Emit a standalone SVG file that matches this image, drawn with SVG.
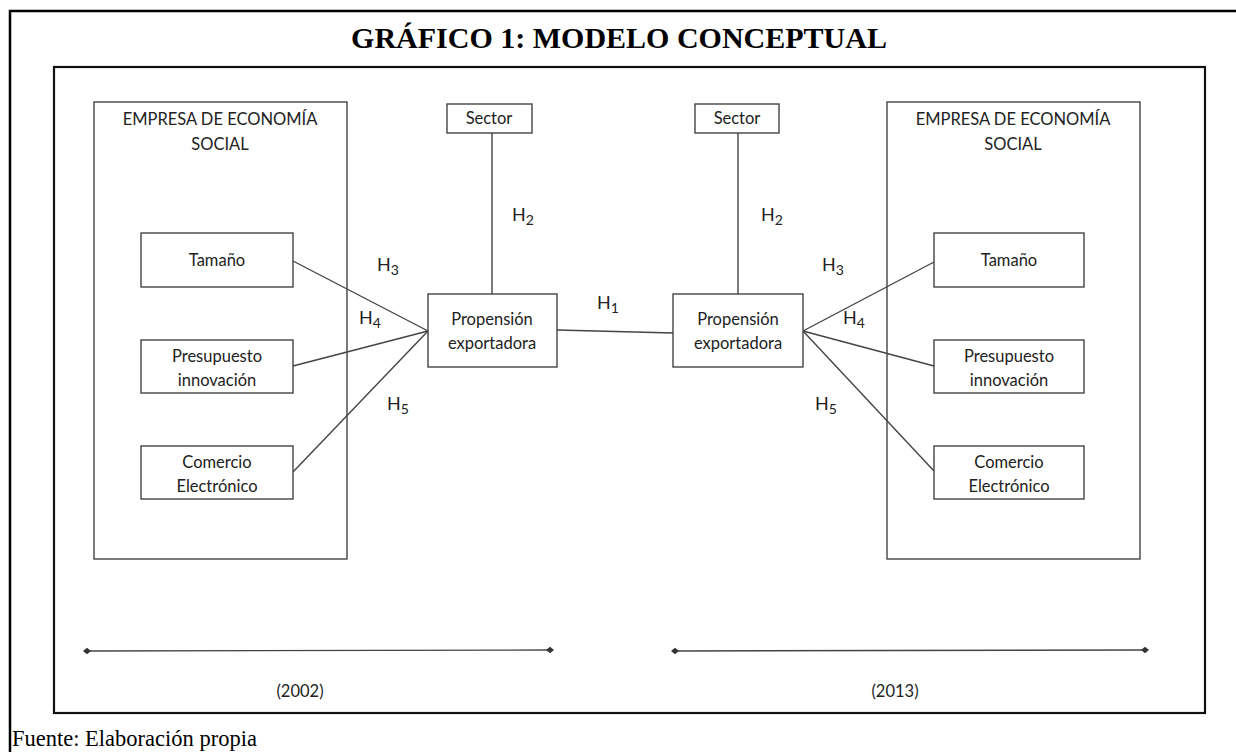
<svg xmlns="http://www.w3.org/2000/svg" width="1236" height="752" viewBox="0 0 1236 752">
<style>
.t{font-family:Lato,"Open Sans","Liberation Sans",sans-serif;font-size:16.5px;fill:#222;text-anchor:middle}
.h{font-family:Lato,"Open Sans","Liberation Sans",sans-serif;font-size:18px;fill:#222}
.s{font-size:14px}
.box{fill:#fff;stroke:#444;stroke-width:1.4}
.ln{stroke:#444;stroke-width:1.4;fill:none}
</style>
<defs>
<marker id="dia" viewBox="-5 -5 10 10" markerWidth="8" markerHeight="8" refX="0" refY="0" markerUnits="userSpaceOnUse"><path d="M-5 0L0-4L5 0L0 4Z" fill="#333"/></marker>
</defs>
<rect x="0" y="0" width="1236" height="752" fill="#fff"/>
<g id="frame">
<path d="M10 752V11H1236" stroke="#000" stroke-width="2.5" fill="none"/>
<rect x="54" y="67" width="1151" height="646" fill="none" stroke="#111" stroke-width="2.2"/>
<text x="619" y="48" font-family="Liberation Serif,serif" font-weight="bold" font-size="30" text-anchor="middle">GRÁFICO 1: MODELO CONCEPTUAL</text>
<text x="12" y="746" font-family="Liberation Serif,serif" font-size="22.5">Fuente: Elaboración propia</text>
</g>
<g id="empresa-2002"><rect class="box" x="94" y="102" width="253" height="457"/><text class="t" x="220" y="125">EMPRESA DE ECONOMÍA</text><text class="t" x="220" y="150">SOCIAL</text></g>
<g id="empresa-2013"><rect class="box" x="887" y="102" width="253" height="457"/><text class="t" x="1013" y="125">EMPRESA DE ECONOMÍA</text><text class="t" x="1013" y="150">SOCIAL</text></g>
<g id="connectors">
<line class="ln" x1="293" y1="261" x2="428" y2="331"/>
<line class="ln" x1="293" y1="366" x2="428" y2="331"/>
<line class="ln" x1="293" y1="472" x2="428" y2="331"/>
<line class="ln" x1="934" y1="262" x2="803" y2="331"/>
<line class="ln" x1="934" y1="366" x2="803" y2="331"/>
<line class="ln" x1="934" y1="471" x2="803" y2="331"/>
<line class="ln" x1="492" y1="133" x2="492" y2="294"/>
<line class="ln" x1="738" y1="133" x2="738" y2="294"/>
<line class="ln" x1="557" y1="330" x2="673" y2="333"/>
<line class="ln" x1="87" y1="651" x2="550" y2="650" marker-start="url(#dia)" marker-end="url(#dia)"/>
<line class="ln" x1="675" y1="651" x2="1145" y2="650" marker-start="url(#dia)" marker-end="url(#dia)"/>
</g>
<g id="tam-l"><rect class="box" x="141" y="233" width="152" height="54"/><text class="t" x="217" y="266">Tamaño</text></g>
<g id="pre-l"><rect class="box" x="141" y="340" width="152" height="53"/><text class="t" x="217" y="362">Presupuesto</text><text class="t" x="217" y="386">innovación</text></g>
<g id="com-l"><rect class="box" x="141" y="446" width="152" height="53"/><text class="t" x="217" y="468">Comercio</text><text class="t" x="217" y="492">Electrónico</text></g>
<g id="tam-r"><rect class="box" x="934" y="233" width="150" height="54"/><text class="t" x="1009" y="266">Tamaño</text></g>
<g id="pre-r"><rect class="box" x="934" y="340" width="150" height="53"/><text class="t" x="1009" y="362">Presupuesto</text><text class="t" x="1009" y="386">innovación</text></g>
<g id="com-r"><rect class="box" x="934" y="446" width="150" height="53"/><text class="t" x="1009" y="468">Comercio</text><text class="t" x="1009" y="492">Electrónico</text></g>
<g id="sec-l"><rect class="box" x="447" y="104" width="85" height="29"/><text class="t" x="489" y="124">Sector</text></g>
<g id="sec-r"><rect class="box" x="695" y="104" width="84" height="29"/><text class="t" x="737" y="124">Sector</text></g>
<g id="prop-l"><rect class="box" x="428" y="294" width="129" height="73"/><text class="t" x="492" y="325">Propensión</text><text class="t" x="492" y="349">exportadora</text></g>
<g id="prop-r"><rect class="box" x="673" y="294" width="130" height="73"/><text class="t" x="738" y="325">Propensión</text><text class="t" x="738" y="349">exportadora</text></g>
<g id="labels">
<text class="h" x="512" y="221">H<tspan class="s" dy="4">2</tspan></text>
<text class="h" x="761" y="221">H<tspan class="s" dy="4">2</tspan></text>
<text class="h" x="377" y="271">H<tspan class="s" dy="4">3</tspan></text>
<text class="h" x="359" y="324">H<tspan class="s" dy="4">4</tspan></text>
<text class="h" x="387" y="410">H<tspan class="s" dy="4">5</tspan></text>
<text class="h" x="597" y="309">H<tspan class="s" dy="4">1</tspan></text>
<text class="h" x="822" y="271">H<tspan class="s" dy="4">3</tspan></text>
<text class="h" x="843" y="324">H<tspan class="s" dy="4">4</tspan></text>
<text class="h" x="815" y="410">H<tspan class="s" dy="4">5</tspan></text>
<text class="t" x="300" y="697">(2002)</text>
<text class="t" x="895" y="697">(2013)</text>
</g>
</svg>
